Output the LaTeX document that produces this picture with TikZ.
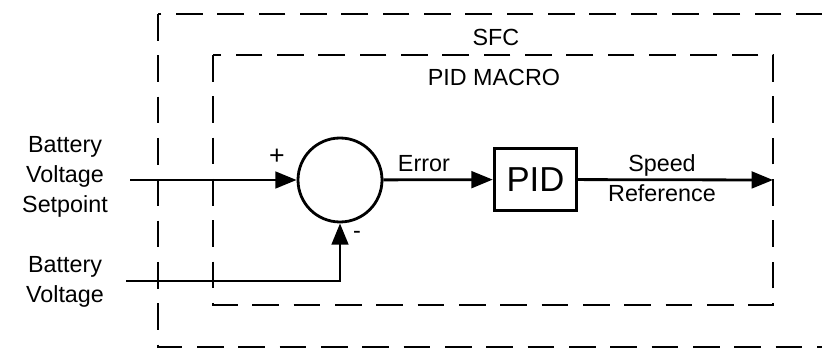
\documentclass[tikz,border=0pt]{standalone}
\usepackage{fontspec}
\setmainfont{Liberation Sans}
\usetikzlibrary{arrows.meta}

\begin{document}
\begin{tikzpicture}[x=0.75pt,y=-0.75pt,line width=2.1pt,
  frame/.style={line width=2.1pt,dash pattern=on 20pt off 11pt},
  lbl/.style={font=\fontsize{17.5}{22.5}\selectfont,align=center,inner sep=0pt},
  sig/.style={-{Triangle[length=16pt,width=12.5pt]}}]
\useasboundingbox (0,0) rectangle (822,349);
% frames
\draw[frame] (158,14) rectangle (860,347);
\draw[frame] (213,55) rectangle (773,305);
\node[lbl] (sfc) at (496,37) {SFC};
\node[lbl] (macro) at (494,77) {PID MACRO};
% blocks
\node[circle,draw,minimum size=63pt,inner sep=0pt] (sum) at (340,180) {};
\node[draw,minimum width=62pt,minimum height=46pt,inner sep=0pt,
  font=\fontsize{26}{30}\selectfont] (pid) at (535.5,179.5) {PID};
% inputs
\node[lbl] (setpt) at (65,177) {Battery\\Voltage\\Setpoint};
\node[lbl] (batt) at (65,282) {Battery\\Voltage};
\coordinate (spin) at (130,180);
\coordinate (bvin) at (126,281);
\coordinate (spdout) at (773,180);
% signals
\draw[sig] (spin) -- (sum);
\draw[sig] (bvin) -| (sum);
\draw[sig] (sum) -- node[lbl,above=5pt,pos=0.37] (err) {Error} (pid);
\draw[sig] (pid) -- node[lbl,pos=0.43,yshift=1pt] (spd) {Speed\\Reference} (spdout);
\node[lbl,font=\fontsize{20}{22.5}\selectfont] (plus) at (277,157) {+};
\node[lbl] (minus) at (357,235) {-};
\end{tikzpicture}
\end{document}
